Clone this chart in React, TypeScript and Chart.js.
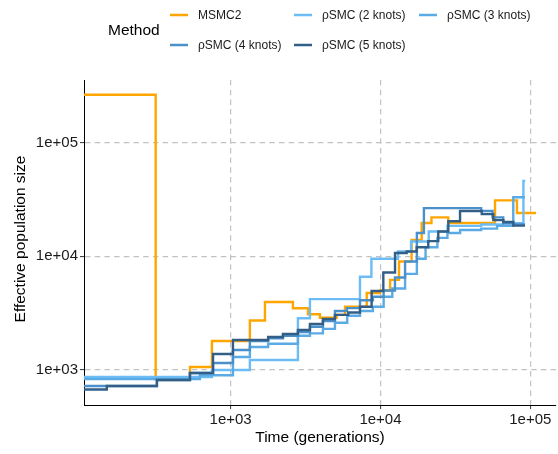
import { useEffect, useRef } from 'react';
import { Chart, registerables } from 'chart.js';

Chart.register(...registerables);

const FONT = '"Liberation Sans", Arial, Helvetica, sans-serif';

const methodLabels = ['MSMC2', 'ρSMC (2 knots)', 'ρSMC (3 knots)', 'ρSMC (4 knots)', 'ρSMC (5 knots)'];
const methodColors = ['#FFA500', '#6CBDF5', '#5AABE5', '#4A90CB', '#335F86'];

const xTickValues = [1e3, 1e4, 1e5];
const yTickValues = [1e3, 1e4, 1e5];
const xLimits = [105, 148500];
const yLimits = [492, 355000];

// step functions: times are breakpoints (last = end), Ne holds from times[i] to times[i+1]
const msmc2Times = [50, 316, 535, 750, 1344, 1695, 2605, 3281, 3945, 5100, 5800, 8100, 9925, 11600, 13300, 16150, 18850, 21900, 28350, 58170, 81500, 109200];
const msmc2Ne = [263000, 828, 1062, 1800, 2720, 3960, 3490, 3090, 2880, 3050, 3600, 4750, 5000, 6200, 9000, 13900, 19600, 22000, 19600, 31000, 24000];

const smc2Times = [50, 750, 1344, 2813, 3383, 7300, 8700, 13100, 16000, 21000, 28000, 47000, 66000, 90000, 92500];
const smc2Ne = [868, 1000, 1225, 2850, 4200, 6600, 9500, 11000, 13500, 16500, 18500, 19000, 19500, 46000];

const smc3Times = [50, 623, 1036, 1344, 1780, 2813, 3383, 4131, 4969, 6000, 7300, 8900, 10500, 12000, 14600, 17500, 20000, 24000, 28000, 34000, 47000, 60000, 77000, 92200];
const smc3Ne = [833, 900, 1300, 1590, 1700, 2000, 2100, 2300, 2600, 3000, 3300, 3600, 4400, 5200, 7000, 9500, 12000, 14500, 16000, 17000, 17500, 18500, 33000];

const smc4Times = [50, 322, 535, 763, 1036, 1344, 1780, 2235, 2813, 3383, 4131, 4969, 5976, 7300, 8900, 10500, 12500, 14600, 17500, 19500, 47000, 56000, 66000, 77000, 92200];
const smc4Ne = [723, 817, 941, 1150, 1500, 1800, 1900, 2000, 2150, 2400, 2700, 3300, 3500, 4100, 4400, 5000, 6500, 9000, 16000, 26500, 25000, 22000, 19500, 19000];

const smc5Times = [50, 149, 322, 535, 763, 1036, 1780, 2235, 2813, 3383, 4131, 4969, 6100, 7300, 8730, 10450, 12510, 14960, 17450, 20850, 24320, 28380, 33980, 39630, 47430, 56650, 66080, 77090, 92180];
const smc5Ne = [674, 723, 817, 941, 1383, 1836, 1950, 2070, 2250, 2540, 2810, 3050, 3200, 3600, 4950, 7200, 10700, 11000, 12000, 13600, 16500, 20300, 25000, 25000, 23500, 20800, 20000, 18600];

const seriesTimes = [msmc2Times, smc2Times, smc3Times, smc4Times, smc5Times];
const seriesNe = [msmc2Ne, smc2Ne, smc3Ne, smc4Ne, smc5Ne];

function stepPoints(times: number[], ne: number[]) {
  const pts = ne.map((v, i) => ({ x: times[i], y: v }));
  pts.push({ x: times[times.length - 1], y: ne[ne.length - 1] });
  return pts;
}

const fmt = (v: number) => {
  const e = Math.round(Math.log10(v));
  return '1e+' + String(e).padStart(2, '0');
};

const decorPlugin = {
  id: 'decor',
  afterDraw(chart: any) {
    const ctx = chart.ctx as CanvasRenderingContext2D;
    const area = chart.chartArea;
    ctx.save();
    ctx.fillStyle = '#000';
    ctx.font = `15.5px ${FONT}`;
    ctx.textAlign = 'center';
    ctx.textBaseline = 'alphabetic';
    ctx.fillText('Time (generations)', (area.left + area.right) / 2, 442);
    ctx.save();
    ctx.translate(24.5, 239);
    ctx.rotate(-Math.PI / 2);
    ctx.fillText('Effective population size', 0, 0);
    ctx.restore();

    // legend
    ctx.textAlign = 'left';
    ctx.textBaseline = 'middle';
    ctx.font = `15.5px ${FONT}`;
    ctx.fillText('Method', 108, 31);
    const colX = [170, 294, 419];
    const rowY = [15, 45];
    ctx.font = `12px ${FONT}`;
    methodLabels.forEach((lab, i) => {
      const c = i % 3;
      const r = Math.floor(i / 3);
      const x = colX[c];
      const y = rowY[r];
      ctx.strokeStyle = methodColors[i];
      ctx.lineWidth = 2.5;
      ctx.beginPath();
      ctx.moveTo(x, y);
      ctx.lineTo(x + 18, y);
      ctx.stroke();
      ctx.fillStyle = '#1a1a1a';
      ctx.fillText(lab, x + 28, y + 0.5);
    });
    ctx.restore();
  },
};

export default function App() {
  const ref = useRef<HTMLCanvasElement | null>(null);
  useEffect(() => {
    if (!ref.current) return;
    const datasets = methodLabels.map((lab, i) => ({
      label: lab,
      data: stepPoints(seriesTimes[i], seriesNe[i]),
      borderColor: methodColors[i],
      backgroundColor: methodColors[i],
      borderWidth: 2.4,
      pointRadius: 0,
      fill: false,
      stepped: 'before' as const,
      order: methodLabels.length - i,
      borderJoinStyle: 'miter' as const,
    }));
    const gridCommon = {
      color: '#c2c2c2',
      lineWidth: 1.2,
      drawTicks: true,
      tickLength: 4,
      tickColor: '#333',
      tickWidth: 1,
      tickBorderDash: [],
    };
    const chart = new Chart(ref.current, {
      type: 'line',
      data: { datasets },
      plugins: [decorPlugin],
      options: {
        animation: false,
        responsive: true,
        maintainAspectRatio: false,
        events: [],
        layout: { padding: { top: 80, right: 2, left: 0, bottom: 0 } },
        plugins: { legend: { display: false }, tooltip: { enabled: false }, title: { display: false } },
        scales: {
          x: {
            type: 'logarithmic',
            min: xLimits[0],
            max: xLimits[1],
            afterBuildTicks: (s: any) => {
              s.ticks = xTickValues.map((v) => ({ value: v }));
            },
            afterFit: (s: any) => {
              s.height = 49;
            },
            ticks: {
              autoSkip: false,
              maxRotation: 0,
              padding: 2,
              color: '#1a1a1a',
              font: { family: FONT, size: 15 },
              callback: (v: any) => fmt(Number(v)),
            },
            grid: gridCommon,
            border: { display: true, color: '#000', width: 1, dash: [5.5, 4.2] },
          },
          y: {
            type: 'logarithmic',
            min: yLimits[0],
            max: yLimits[1],
            afterBuildTicks: (s: any) => {
              s.ticks = yTickValues.map((v) => ({ value: v }));
            },
            afterFit: (s: any) => {
              s.width = 84;
            },
            ticks: {
              autoSkip: false,
              padding: 2,
              color: '#1a1a1a',
              font: { family: FONT, size: 15 },
              callback: (v: any) => fmt(Number(v)),
            },
            grid: gridCommon,
            border: { display: true, color: '#000', width: 1, dash: [5.5, 4.2] },
          },
        },
      } as any,
    });
    return () => chart.destroy();
  }, []);
  return (
    <div style={{ position: 'fixed', left: 0, top: 0, width: 558, height: 454, background: '#fff' }}>
      <canvas ref={ref} />
    </div>
  );
}
